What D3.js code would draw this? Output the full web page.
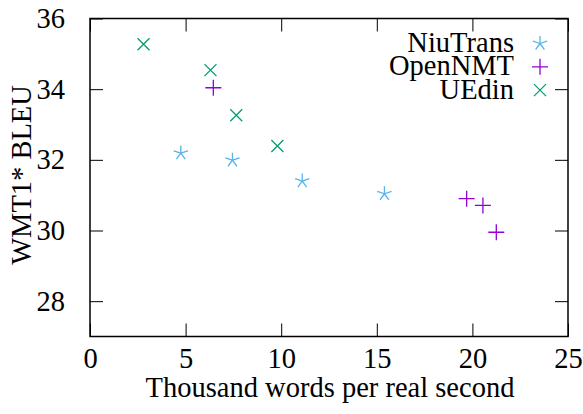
<!DOCTYPE html>
<html>
<head>
<meta charset="utf-8">
<script src="https://cdn.jsdelivr.net/npm/d3@7"></script>
<style>
  html, body { margin: 0; padding: 0; background: #fff; }
  svg { display: block; }
</style>
</head>
<body>
<svg id="chart" width="583" height="414"></svg>
<script>
// Throughput (thousand words / s) vs. BLEU for three toolkits
const niuTransSpeed = [4.75, 7.45, 11.1, 15.4];
const niuTransBleu  = [32.19, 31.99, 31.40, 31.04];
const openNmtSpeed  = [6.45, 19.7, 20.55, 21.25];
const openNmtBleu   = [34.04, 30.90, 30.71, 29.95];
const uedinSpeed    = [2.8, 6.3, 7.65, 9.8];
const uedinBleu     = [35.27, 34.54, 33.26, 32.39];

const seriesNames  = ["NiuTrans", "OpenNMT", "UEdin"];
const seriesColors = ["#56b4e9", "#9400d3", "#009e73"];
const xTicks = [0, 5, 10, 15, 20, 25];
const yTicks = [28, 30, 32, 34, 36];
const xLabel = "Thousand words per real second";
const yLabel = "WMT1* BLEU";

const series = [
  { name: seriesNames[0], color: seriesColors[0], shape: "star",  xs: niuTransSpeed, ys: niuTransBleu },
  { name: seriesNames[1], color: seriesColors[1], shape: "plus",  xs: openNmtSpeed,  ys: openNmtBleu },
  { name: seriesNames[2], color: seriesColors[2], shape: "cross", xs: uedinSpeed,    ys: uedinBleu }
];

const svg = d3.select("#chart");
const plotLeft = 90, plotRight = 568, plotTop = 18.5, plotBottom = 336.5;
const font = "'Liberation Serif', 'Times New Roman', serif";
const fs = 28.5;

const x = d3.scaleLinear().domain([0, 25]).range([plotLeft, plotRight]);
const y = d3.scaleLinear().domain([27, 36]).range([plotBottom, plotTop]);
const tickLen = 13;

// marker path generators, centered at origin
function markerPath(shape) {
  const p = d3.path();
  if (shape === "plus") {
    const r = 8;
    p.moveTo(-r, 0); p.lineTo(r, 0);
    p.moveTo(0, -r); p.lineTo(0, r);
  } else if (shape === "cross") {
    const r = 6;
    p.moveTo(-r, -r); p.lineTo(r, r);
    p.moveTo(-r, r); p.lineTo(r, -r);
  } else {
    const r = 7.5;
    for (let i = 0; i < 5; i++) {
      const a = -Math.PI / 2 + i * 2 * Math.PI / 5;
      p.moveTo(0, 0); p.lineTo(r * Math.cos(a), r * Math.sin(a));
    }
  }
  return p.toString();
}

// axes: inward ticks on all four sides
const axisG = svg.append("g");
axisG.append("g").attr("transform", `translate(0,${plotBottom})`)
  .call(d3.axisBottom(x).tickValues(xTicks).tickSize(-tickLen).tickPadding(11.5).tickSizeOuter(0))
  .call(g => g.select(".domain").remove());
axisG.append("g").attr("transform", `translate(0,${plotTop})`)
  .call(d3.axisTop(x).tickValues(xTicks).tickSize(-tickLen).tickFormat("").tickSizeOuter(0))
  .call(g => g.select(".domain").remove());
axisG.append("g").attr("transform", `translate(${plotLeft},0)`)
  .call(d3.axisLeft(y).tickValues(yTicks).tickSize(-tickLen).tickPadding(25).tickSizeOuter(0))
  .call(g => g.select(".domain").remove());
axisG.append("g").attr("transform", `translate(${plotRight},0)`)
  .call(d3.axisRight(y).tickValues(yTicks).tickSize(-tickLen).tickFormat("").tickSizeOuter(0))
  .call(g => g.select(".domain").remove());

axisG.selectAll("g").attr("font-family", font).attr("font-size", fs);
axisG.selectAll(".tick line").attr("stroke", "#000").attr("stroke-width", 1);
axisG.selectAll(".tick text").attr("fill", "#000");

// frame
svg.append("rect")
  .attr("x", plotLeft).attr("y", plotTop)
  .attr("width", plotRight - plotLeft).attr("height", plotBottom - plotTop)
  .attr("fill", "none").attr("stroke", "#000").attr("stroke-width", 1.5);

// axis titles
svg.append("text")
  .attr("x", 330).attr("y", 397)
  .attr("text-anchor", "middle")
  .attr("font-family", font).attr("font-size", fs)
  .text(xLabel);
svg.append("text")
  .attr("transform", "translate(31,175) rotate(-90)")
  .attr("text-anchor", "middle")
  .attr("font-family", font).attr("font-size", fs)
  .text(yLabel);

// points
series.forEach(s => {
  svg.append("g").selectAll("path")
    .data(s.xs.map((v, i) => [v, s.ys[i]]))
    .join("path")
    .attr("transform", d => `translate(${x(d[0])},${y(d[1])})`)
    .attr("d", markerPath(s.shape))
    .attr("fill", "none")
    .attr("stroke", s.color)
    .attr("stroke-width", 1.3);
});

// legend
const leg = svg.append("g");
series.forEach((s, i) => {
  const cy = 43.5 + i * 23.3;
  leg.append("text")
    .attr("x", 514).attr("y", cy + 8.5)
    .attr("text-anchor", "end")
    .attr("font-family", font).attr("font-size", fs)
    .text(s.name);
  leg.append("path")
    .attr("transform", `translate(540,${cy})`)
    .attr("d", markerPath(s.shape))
    .attr("fill", "none")
    .attr("stroke", s.color)
    .attr("stroke-width", 1.3);
});
</script>
</body>
</html>
